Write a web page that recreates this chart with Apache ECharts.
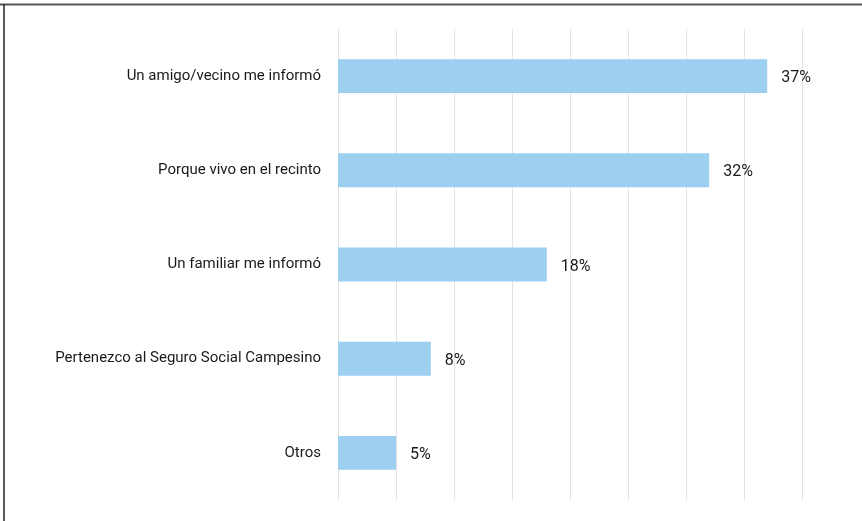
<!DOCTYPE html>
<html><head><meta charset="utf-8">
<script src="https://cdn.jsdelivr.net/npm/echarts@6/dist/echarts.min.js"></script>
<style>html,body{margin:0;padding:0;background:#fff}#c{width:862px;height:521px}</style>
</head><body><div id="c"></div>
<script>
const categories = ["Un amigo/vecino me informó","Porque vivo en el recinto","Un familiar me informó","Pertenezco al Seguro Social Campesino","Otros"];
const values = [37, 32, 18, 8, 5];

const chart = echarts.init(document.getElementById('c'), null, {renderer:'canvas'});
const font = 'Roboto, sans-serif';
chart.setOption({
  animation:false,
  backgroundColor:'#fff',
  grid:{left:338, right:60, top:29, bottom:21, containLabel:false},
  xAxis:{type:'value', min:0, max:40, interval:5,
    axisLabel:{show:false}, axisLine:{show:false}, axisTick:{show:false},
    splitLine:{show:true, lineStyle:{color:'#e3e3e3', width:1}}},
  yAxis:{type:'category', data:categories, inverse:true,
    axisLine:{show:false}, axisTick:{show:false},
    axisLabel:{color:'#1a1a1a', fontSize:15, fontFamily:font, margin:17}},
  series:[{type:'bar', data:values, barWidth:'36%',
    itemStyle:{color:'#9dcff0'},
    label:{show:true, position:'right', distance:14, formatter:'{c}%', color:'#1a1a1a', fontSize:16, fontFamily:font, offset:[0,2]}}],
  graphic:[
    {type:'line', shape:{x1:0,y1:4.5,x2:862,y2:4.5}, style:{stroke:'#555', lineWidth:2}},
    {type:'line', shape:{x1:4,y1:4,x2:4,y2:521}, style:{stroke:'#222', lineWidth:1.5}}
  ]
});
</script></body></html>
